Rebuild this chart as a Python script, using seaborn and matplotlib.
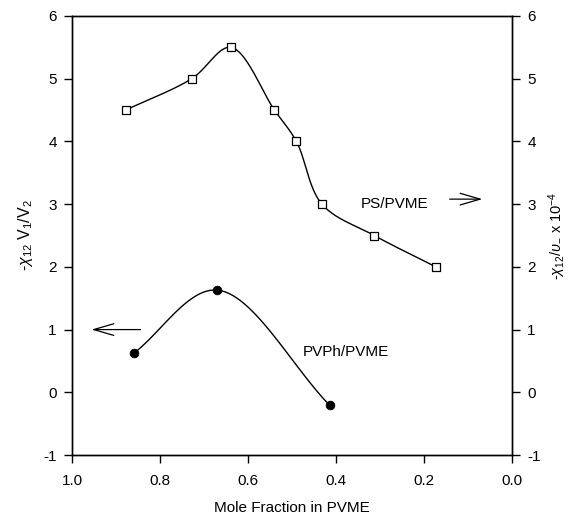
import numpy as np
import pandas as pd
import matplotlib
matplotlib.use("Agg")
import matplotlib.pyplot as plt
import seaborn as sns

# Data
ps_x = [0.878, 0.728, 0.639, 0.540, 0.490, 0.432, 0.313, 0.173]
ps_y = [4.5, 5.0, 5.5, 4.5, 4.0, 3.0, 2.5, 2.0]
pvph_x = [0.860, 0.671, 0.414]
pvph_y = [0.62, 1.63, -0.21]
x_ticks = [1.0, 0.8, 0.6, 0.4, 0.2, 0.0]
y_ticks = [-1, 0, 1, 2, 3, 4, 5, 6]


def smooth_curve(x, y, n=40):
    """Centripetal Catmull-Rom curve through the points (in screen-like units)."""
    sxs, sys_ = 440.0, 62.7  # approx pixels per data unit
    P = np.column_stack([np.asarray(x) * -sxs, np.asarray(y) * sys_])
    P = np.vstack([2 * P[0] - P[1], P, 2 * P[-1] - P[-2]])
    out = []
    for i in range(1, len(P) - 2):
        p0, p1, p2, p3 = P[i - 1], P[i], P[i + 1], P[i + 2]
        t0 = 0.0
        t1 = t0 + np.linalg.norm(p1 - p0) ** 0.5
        t2 = t1 + np.linalg.norm(p2 - p1) ** 0.5
        t3 = t2 + np.linalg.norm(p3 - p2) ** 0.5
        t = np.linspace(t1, t2, n)[:, None]
        A1 = (t1 - t) / (t1 - t0) * p0 + (t - t0) / (t1 - t0) * p1
        A2 = (t2 - t) / (t2 - t1) * p1 + (t - t1) / (t2 - t1) * p2
        A3 = (t3 - t) / (t3 - t2) * p2 + (t - t2) / (t3 - t2) * p3
        B1 = (t2 - t) / (t2 - t0) * A1 + (t - t0) / (t2 - t0) * A2
        B2 = (t3 - t) / (t3 - t1) * A2 + (t - t1) / (t3 - t1) * A3
        C = (t2 - t) / (t2 - t1) * B1 + (t - t1) / (t2 - t1) * B2
        out.append(C if i == 1 else C[1:])
    C = np.vstack(out)
    return C[:, 0] / -sxs, C[:, 1] / sys_


sns.set_theme(style="ticks")
plt.rcParams['font.family'] = ['Liberation Sans', 'DejaVu Sans']
plt.rcParams['mathtext.fontset'] = 'custom'
plt.rcParams['mathtext.rm'] = 'Liberation Sans'
plt.rcParams['mathtext.it'] = 'Liberation Sans:italic'
plt.rcParams['text.color'] = 'black'
plt.rcParams['axes.labelcolor'] = 'black'
plt.rcParams['xtick.color'] = 'black'
plt.rcParams['ytick.color'] = 'black'

fig = plt.figure(figsize=(5.73, 5.16), dpi=100)
ax = fig.add_axes([0.1257, 0.1182, 0.7678, 0.8508])
ax2 = ax.twinx()

# PVPh/PVME on left axis
sx, sy = smooth_curve(pvph_x, pvph_y)
sns.lineplot(x=sx, y=sy, ax=ax, color='black', lw=1.0, sort=False, estimator=None)
sns.scatterplot(x=pvph_x, y=pvph_y, ax=ax, color='black', marker='o', s=40,
                edgecolor='black', zorder=5)

# PS/PVME on right axis
sx2, sy2 = smooth_curve(ps_x, ps_y)
sns.lineplot(x=sx2, y=sy2, ax=ax2, color='black', lw=1.0, sort=False, estimator=None)
sns.scatterplot(x=ps_x, y=ps_y, ax=ax2, marker='s', s=40, facecolor='white',
                edgecolor='black', linewidth=0.9, zorder=5)

for a in (ax, ax2):
    a.set_xlim(1.0, 0.0)
    a.set_ylim(-1, 6)
    a.set_yticks(y_ticks)
    a.set_yticklabels([str(t) for t in y_ticks])
    for s in a.spines.values():
        s.set_color('black')
        s.set_linewidth(1.0)
        s.set_visible(True)
    a.tick_params(direction='out', length=6, width=1.0, colors='black', labelsize=11)

ax.set_xticks(x_ticks)
ax.set_xticklabels([f"{t:.1f}" for t in x_ticks])
ax.tick_params(axis='x', pad=8)
ax.tick_params(axis='y', pad=5)
ax2.tick_params(axis='y', pad=5)

ax.set_xlabel("Mole Fraction in PVME", fontsize=11, labelpad=9, color='black')
ax.set_ylabel(r"-$\chi_{12}$ V$_1$/V$_2$", fontsize=11.5, labelpad=6, color='black')
ax2.set_ylabel(r"-$\chi_{12}$/$\upsilon_{-}$ x 10$^{-4}$", fontsize=10.5, labelpad=4, color='black')

ax.text(0.266, 3.0, "PS/PVME", fontsize=11, ha='center', va='center', color='black')
ax.text(0.377, 0.64, "PVPh/PVME", fontsize=11, ha='center', va='center', color='black')
ax.annotate("", xy=(0.962, 1.0), xytext=(0.838, 1.0),
            arrowprops=dict(arrowstyle='->,head_length=1.2,head_width=0.35', color='black', lw=0.9))
ax.annotate("", xy=(0.061, 3.08), xytext=(0.148, 3.08),
            arrowprops=dict(arrowstyle='->,head_length=1.2,head_width=0.35', color='black', lw=0.9))

fig.savefig("out.png", dpi=100)
